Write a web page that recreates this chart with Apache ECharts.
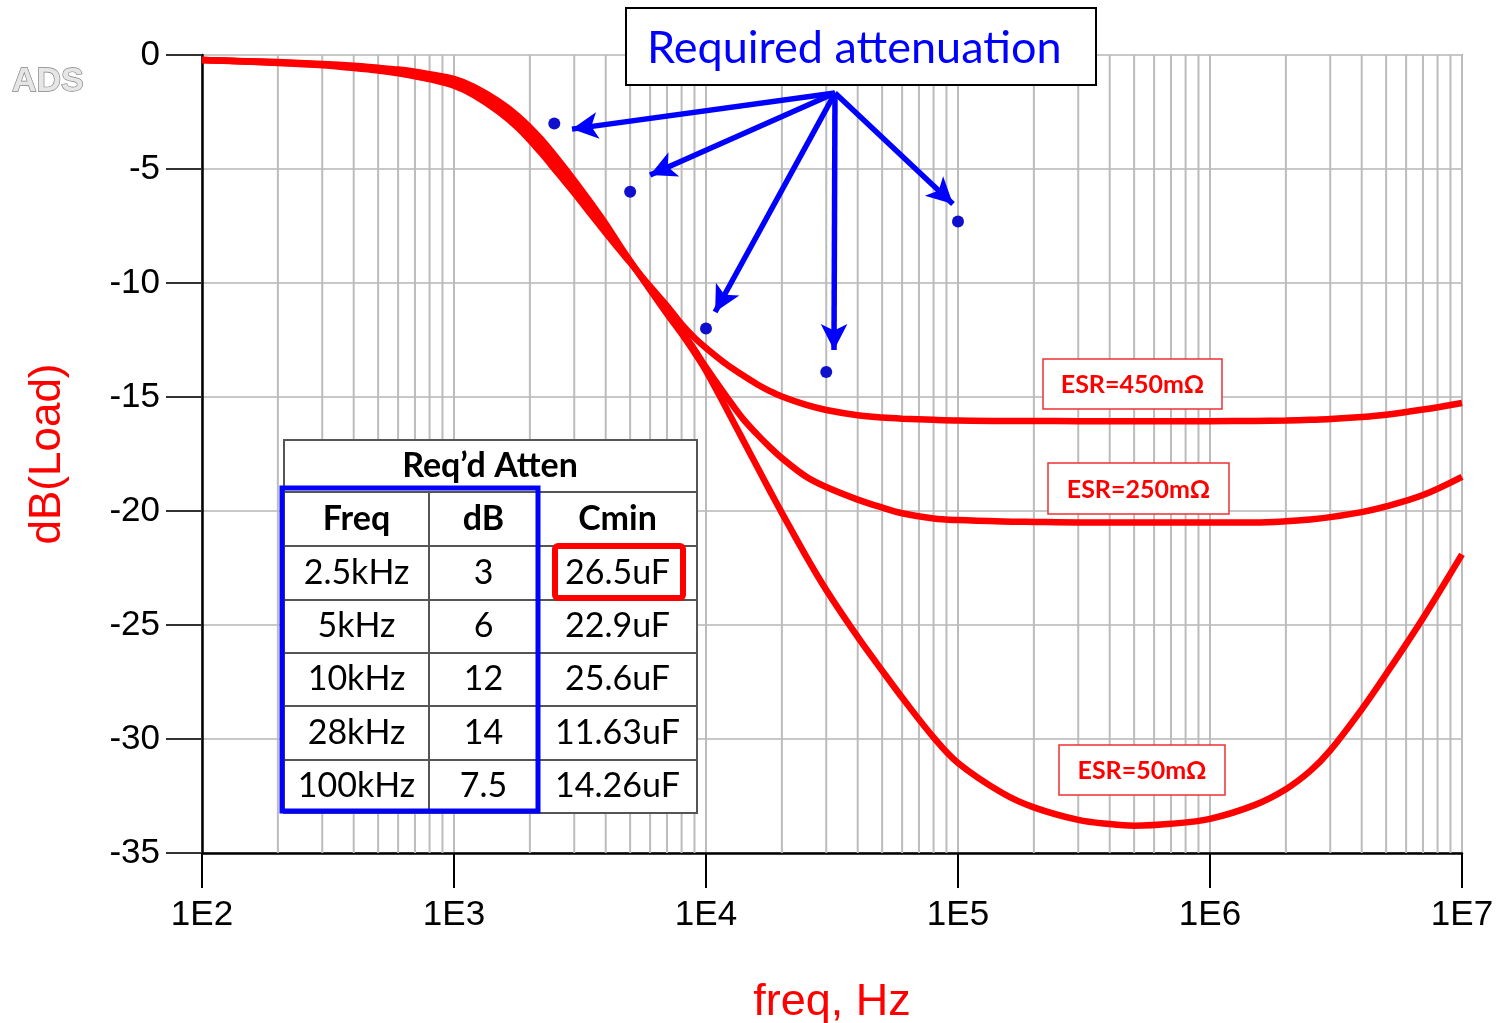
<!DOCTYPE html>
<html>
<head>
<meta charset="utf-8">
<title>dB(Load) vs freq</title>
<script src="https://cdn.jsdelivr.net/npm/echarts@6.0.0/dist/echarts.min.js"></script>
<style>
  html, body { margin: 0; padding: 0; background: #fff; }
  #chart { width: 1501px; height: 1023px; }
</style>
</head>
<body>
<div id="chart"></div>
<script>
// frequency points (Hz) shared by the three curves
const freqs = [100, 150, 200, 300, 400, 500, 600, 700, 800,
  1000, 1200, 1500, 1800, 2200, 2600, 3000, 3500, 4000, 4500, 5000, 6000, 7000, 8000, 9000,
  10000, 12000, 14000, 16000, 18000, 20000, 25000, 30000, 40000, 50000, 60000, 80000,
  100000, 150000, 200000, 300000, 400000, 500000, 700000,
  1e6, 1.5e6, 2e6, 2.5e6, 3e6, 4e6, 5e6, 7e6, 1e7];

const esr450 = [-0.22, -0.29, -0.35, -0.45, -0.57, -0.68, -0.8, -0.93, -1.06,
  -1.35, -1.76, -2.47, -3.21, -4.25, -5.22, -6.05, -7.0, -7.8, -8.5, -9.1, -10.15, -11.0, -11.8, -12.4,
  -12.85, -13.55, -14.05, -14.45, -14.75, -14.98, -15.35, -15.57, -15.8, -15.9, -15.95, -16.0,
  -16.03, -16.05, -16.05, -16.06, -16.06, -16.06, -16.06,
  -16.06, -16.05, -16.03, -16.0, -15.97, -15.88, -15.78, -15.55, -15.26];

const esr250 = [-0.22, -0.28, -0.33, -0.42, -0.52, -0.62, -0.72, -0.83, -0.95,
  -1.2, -1.58, -2.25, -2.95, -3.95, -4.92, -5.78, -6.75, -7.6, -8.4, -9.07, -10.25, -11.25, -12.12, -12.92,
  -13.7, -14.95, -15.95, -16.65, -17.22, -17.68, -18.5, -18.95, -19.5, -19.85, -20.1, -20.33,
  -20.4, -20.46, -20.48, -20.5, -20.5, -20.5, -20.5,
  -20.5, -20.5, -20.45, -20.37, -20.27, -20.05, -19.8, -19.3, -18.5];

const esr50 = [-0.22, -0.27, -0.31, -0.39, -0.47, -0.56, -0.64, -0.73, -0.84,
  -1.05, -1.4, -2.03, -2.69, -3.65, -4.62, -5.5, -6.5, -7.4, -8.28, -9.03, -10.3, -11.35, -12.22, -13.05,
  -13.85, -15.47, -16.87, -18.08, -19.15, -20.08, -22.0, -23.46, -25.52, -27.0, -28.18, -29.93,
  -31.05, -32.37, -33.0, -33.55, -33.73, -33.8, -33.72,
  -33.5, -32.9, -32.2, -31.4, -30.5, -28.7, -27.15, -24.7, -21.9];

// required attenuation points
const reqFreq = [2500, 5000, 10000, 30000, 100000];
const reqDb = [-3, -6, -12, -13.9, -7.3];

// table text
const tableFreq = ['2.5kHz', '5kHz', '10kHz', '28kHz', '100kHz'];
const tableDb = ['3', '6', '12', '14', '7.5'];
const tableCmin = ['26.5uF', '22.9uF', '25.6uF', '11.63uF', '14.26uF'];

const yTicks = [0, -5, -10, -15, -20, -25, -30, -35];

// arrow annotation (data coords: freq, dB)
const arrowFrom = [32500, -1.67];
const arrowTo = [[2940, -3.25], [6000, -5.26], [10870, -11.27], [32200, -12.94], [95500, -6.53]];

// minor vertical grid lines 2..9 per decade
const minorGrid = [];
for (let e = 2; e < 7; e++) {
  for (let m = 2; m <= 9; m++) minorGrid.push(m * Math.pow(10, e));
}

const zip = (xs, ys) => xs.map((x, i) => [x, ys[i]]);

const chart = echarts.init(document.getElementById('chart'));

// table graphic
const colX = [284, 429, 538, 697];
const rowY = [440, 492, 546, 600, 653, 706, 760, 813];
const cellFont = '34px Lato';
const headFont = 'bold 34px Lato';
const table = [];
table.push({ type: 'rect', shape: { x: colX[0], y: rowY[0], width: colX[3] - colX[0], height: rowY[7] - rowY[0] },
  style: { fill: '#fff', stroke: '#555', lineWidth: 2 } });
for (let i = 1; i < 7; i++) {
  table.push({ type: 'line', shape: { x1: colX[0], y1: rowY[i], x2: colX[3], y2: rowY[i] }, style: { stroke: '#555', lineWidth: 2 } });
}
[colX[1], colX[2]].forEach(x => {
  table.push({ type: 'line', shape: { x1: x, y1: rowY[1], x2: x, y2: rowY[7] }, style: { stroke: '#555', lineWidth: 2 } });
});
table.push({ type: 'text', style: { text: 'Req\u2019d Atten', x: 490, y: (rowY[0] + rowY[1]) / 2, font: headFont, fill: '#000', align: 'center', verticalAlign: 'middle' } });
const colC = [(colX[0] + colX[1]) / 2, (colX[1] + colX[2]) / 2, (colX[2] + colX[3]) / 2];
['Freq', 'dB', 'Cmin'].forEach((t, j) => {
  table.push({ type: 'text', style: { text: t, x: colC[j], y: (rowY[1] + rowY[2]) / 2, font: headFont, fill: '#000', align: 'center', verticalAlign: 'middle' } });
});
tableFreq.forEach((f, i) => {
  const cy = (rowY[i + 2] + rowY[i + 3]) / 2;
  [f, tableDb[i], tableCmin[i]].forEach((t, j) => {
    table.push({ type: 'text', style: { text: t, x: colC[j], y: cy, font: cellFont, fill: '#000', align: 'center', verticalAlign: 'middle' } });
  });
});
table.push({ type: 'rect', shape: { x: 282, y: 488, width: 256, height: 323 }, style: { fill: 'none', stroke: '#0000ff', lineWidth: 5 } });
table.push({ type: 'rect', shape: { x: 555, y: 546, width: 128, height: 52, r: 3 }, style: { fill: 'none', stroke: '#ff0000', lineWidth: 6 } });

const esrLabel = (text, x, y, w, h) => [
  { type: 'rect', shape: { x: x, y: y, width: w, height: h }, style: { fill: '#fff', stroke: '#f03030', lineWidth: 1.5 } },
  { type: 'text', style: { text: text, x: x + w / 2, y: y + h / 2 + 1, font: 'bold 25px Lato', fill: '#ff0000', align: 'center', verticalAlign: 'middle' } }
];

const overlay = [
  { type: 'text', style: { text: 'ADS', x: 12, y: 82, font: 'bold 34px Liberation Sans', fill: '#e6e6e6', stroke: '#808080', lineWidth: 1.3, verticalAlign: 'middle' } },
  { type: 'rect', shape: { x: 626, y: 8, width: 470, height: 77 }, style: { fill: '#fff', stroke: '#000', lineWidth: 2 } },
  { type: 'text', style: { text: 'Required attenuation', x: 647, y: 48, font: '45px Lato', fill: '#0000ff', verticalAlign: 'middle' } },
  ...esrLabel('ESR=450m\u03a9', 1043, 359, 179, 50),
  ...esrLabel('ESR=250m\u03a9', 1048, 463, 181, 51),
  ...esrLabel('ESR=50m\u03a9', 1059, 745, 166, 50),
  ...table
].map(el => Object.assign({ z: 100 }, el));

const curve = (name, values) => ({
  name: name, type: 'line', data: zip(freqs, values),
  smooth: 0.35, showSymbol: false, z: 3,
  lineStyle: { color: '#ff0000', width: 6.5 }
});

const option = {
  animation: false,
  backgroundColor: '#fff',
  grid: {
    left: 202, right: 39, top: 55, bottom: 170,
    containLabel: false,
    outerBoundsMode: 'none',
    show: true, borderColor: '#555', borderWidth: 1.5
  },
  xAxis: {
    type: 'log',
    logBase: 10,
    min: 100,
    max: 1e7,
    name: 'freq, Hz',
    nameLocation: 'middle',
    nameGap: 127,
    nameTextStyle: { color: '#ff0000', fontSize: 45, fontFamily: 'Liberation Sans' },
    axisLine: { show: true, onZero: false, lineStyle: { color: '#000', width: 2.5 } },
    axisTick: { show: true, length: 35, lineStyle: { color: '#000', width: 2 } },
    axisLabel: {
      color: '#000', fontSize: 35, fontFamily: 'Liberation Sans', margin: 45,
      formatter: v => '1E' + Math.round(Math.log10(v))
    },
    splitLine: { show: true, lineStyle: { color: '#bcbcbc', width: 2 } }
  },
  yAxis: {
    type: 'value',
    min: -35,
    max: 0,
    interval: 5,
    name: 'dB(Load)',
    nameLocation: 'middle',
    nameRotate: 90,
    nameGap: 132,
    nameTextStyle: { color: '#ff0000', fontSize: 44, fontFamily: 'Liberation Sans' },
    axisLine: { show: true, onZero: false, lineStyle: { color: '#000', width: 2.5 } },
    axisTick: { show: true, length: 36, lineStyle: { color: '#333', width: 2 } },
    axisLabel: {
      color: '#000', fontSize: 35, fontFamily: 'Liberation Sans', margin: 42,
      formatter: v => (yTicks.indexOf(v) >= 0 ? String(v) : '')
    },
    splitLine: { show: true, lineStyle: { color: '#c8c8c8', width: 2 } }
  },
  series: [
    {
      type: 'custom',
      z: 1,
      silent: true,
      data: minorGrid.map(v => [v, 0]),
      encode: { x: 0, y: 1 },
      renderItem: (params, api) => {
        const a = api.coord([api.value(0), 0]);
        const b = api.coord([api.value(0), -35]);
        return { type: 'line', shape: { x1: a[0], y1: a[1], x2: b[0], y2: b[1] }, style: { stroke: '#bcbcbc', lineWidth: 2 } };
      }
    },
    curve('ESR=450m\u03a9', esr450),
    curve('ESR=250m\u03a9', esr250),
    curve('ESR=50m\u03a9', esr50),
    {
      name: 'Required attenuation', type: 'scatter', data: zip(reqFreq, reqDb), z: 5,
      symbolSize: 12, itemStyle: { color: '#1010cc', opacity: 1 },
      markLine: {
        silent: true,
        symbol: ['none', 'arrow'],
        symbolSize: [20, 26],
        label: { show: false },
        lineStyle: { color: '#0000ff', width: 5.5, type: 'solid', opacity: 1 },
        data: arrowTo.map(t => [{ coord: arrowFrom }, { coord: t }])
      }
    }
  ],
  graphic: overlay
};

chart.setOption(option);
</script>
</body>
</html>
